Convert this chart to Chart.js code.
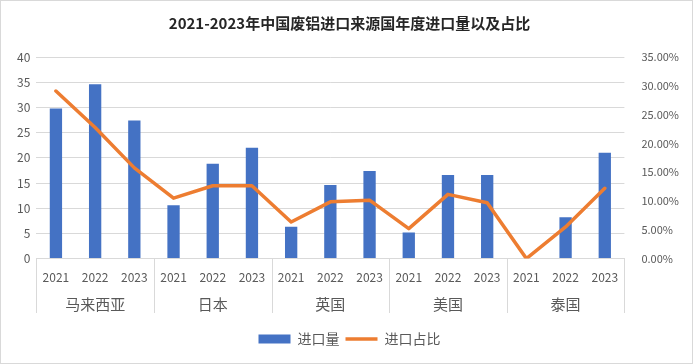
<!DOCTYPE html>
<html>
<head>
<meta charset="utf-8">
<script src="https://cdn.jsdelivr.net/npm/chart.js@4"></script>
<style>
  html, body { margin: 0; padding: 0; background: #fff; }
  #wrap { width: 693px; height: 364px; box-sizing: border-box; border: 1px solid #d9d9d9; }
</style>
</head>
<body>
<div id="wrap"><canvas id="myChart" width="691" height="362"></canvas></div>
<script>
// data
const countries = ['马来西亚', '日本', '英国', '美国', '泰国'];
const years = ['2021', '2022', '2023'];
const importAmount = [29.8, 34.6, 27.4, 10.6, 18.8, 22.0, 6.3, 14.6, 17.4, 5.2, 16.6, 16.6, 0, 8.2, 21.0];
const importShare = [29.1, 22.75, 15.75, 10.5, 12.65, 12.65, 6.35, 9.85, 10.15, 5.2, 11.15, 9.7, 0, 5.5, 12.2];

// one year label per bar
let yearLabels = [];
countries.forEach(function () {
  years.forEach(function (y) { yearLabels.push(y); });
});

const fontName = "'Noto Sans CJK SC', sans-serif";
const tickColor = '#595959';
const extraBelow = 15; // gap between the country row and the legend

// vertical lines between the country groups
const groupLines = {
  id: 'groupLines',
  afterDraw(chart) {
    const xs = chart.scales.x;
    const x2 = chart.scales.x2;
    const ctx = chart.ctx;
    ctx.save();
    ctx.strokeStyle = '#d9d9d9';
    ctx.lineWidth = 1;
    for (let i = 0; i <= countries.length; i++) {
      let px;
      if (i === 0) px = xs.left;
      else if (i === countries.length) px = xs.right;
      else px = (xs.getPixelForValue(i * 3 - 1) + xs.getPixelForValue(i * 3)) / 2;
      px = Math.round(px) + 0.5;
      ctx.beginPath();
      ctx.moveTo(px, xs.top);
      ctx.lineTo(px, x2.bottom - extraBelow + 2);
      ctx.stroke();
    }
    ctx.restore();
  }
};

var ctx = document.getElementById('myChart').getContext('2d');
var myChart = new Chart(ctx, {
  type: 'bar',
  data: {
    labels: yearLabels,
    datasets: [{
      type: 'line',
      label: '进口占比',
      data: importShare,
      yAxisID: 'y1',
      borderColor: '#ED7D31',
      backgroundColor: '#ED7D31',
      borderWidth: 3.5,
      pointRadius: 0,
      pointStyle: 'line',
      borderCapStyle: 'round',
      borderJoinStyle: 'round',
      order: 0
    }, {
      label: '进口量',
      data: importAmount,
      yAxisID: 'y',
      backgroundColor: '#4472C4',
      borderWidth: 0,
      pointStyle: 'rect',
      categoryPercentage: 1,
      barPercentage: 0.314,
      order: 1
    }]
  },
  options: {
    responsive: false,
    animation: false,
    layout: { padding: { left: 10, right: 4, top: 0, bottom: 7 } },
    plugins: {
      title: {
        display: true,
        text: '2021-2023年中国废铝进口来源国年度进口量以及占比',
        color: '#262626',
        font: { family: fontName, size: 15, weight: 'bold' },
        padding: { top: 13, bottom: 25 }
      },
      legend: {
        position: 'bottom',
        reverse: true,
        labels: {
          usePointStyle: true,
          pointStyleWidth: 32,
          boxHeight: 9,
          padding: 6,
          color: tickColor,
          font: { family: fontName, size: 14 }
        }
      },
      tooltip: { enabled: false }
    },
    scales: {
      x: {
        position: 'bottom',
        grid: { display: false },
        border: { display: true, color: '#d9d9d9' },
        ticks: { color: tickColor, font: { family: fontName, size: 12 }, padding: 4, maxRotation: 0, autoSkip: false }
      },
      x2: {
        type: 'category',
        position: 'bottom',
        labels: countries,
        grid: { display: false },
        border: { display: false },
        ticks: { color: tickColor, font: { family: fontName, size: 15 }, padding: -2 },
        afterFit: function (scale) { scale.height += extraBelow; }
      },
      y: {
        position: 'left',
        min: 0,
        max: 40,
        ticks: { stepSize: 5, color: tickColor, font: { family: fontName, size: 12 }, padding: 6 },
        grid: { color: '#d9d9d9', drawTicks: false },
        border: { display: false }
      },
      y1: {
        position: 'right',
        min: 0,
        max: 35,
        ticks: {
          stepSize: 5,
          color: tickColor,
          font: { family: fontName, size: 11 },
          padding: 9,
          callback: function (v) { return v.toFixed(2) + '%'; }
        },
        grid: { display: false },
        border: { display: false }
      }
    }
  },
  plugins: [groupLines]
});
</script>
</body>
</html>
